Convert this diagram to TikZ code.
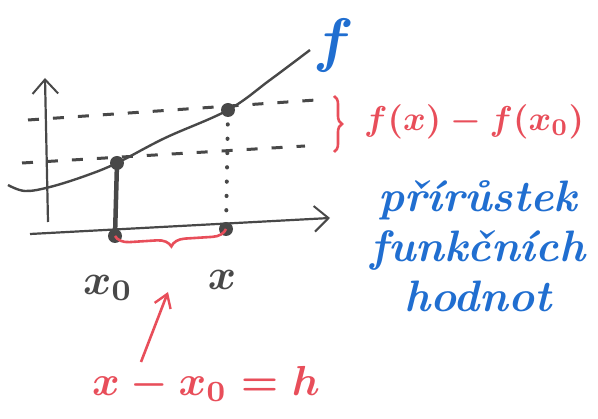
\documentclass[tikz,border=0pt]{standalone}
\usepackage{fontspec}
\usepackage{tikz}
\usetikzlibrary{arrows.meta,positioning,decorations.pathreplacing}
\definecolor{inkgray}{RGB}{72,72,72}
\definecolor{inkred}{RGB}{232,78,90}
\definecolor{inkblue}{RGB}{32,110,208}
\newcommand{\ink}[2][4.3]{\scalebox{#1}{\boldmath#2}}
\tikzset{
  axis/.style={-{Straight Barb[length=5mm,width=9mm,line width=2pt]},draw=inkgray,line width=2.2pt},
  graph/.style={draw=inkgray,line width=2.4pt},
  level/.style={draw=inkgray,line width=3pt,dash pattern=on 11pt off 14pt},
  drop/.style={draw=inkgray,line width=4pt,dash pattern=on 0.3pt off 14pt,line cap=round},
  foot/.style={draw=inkgray,line width=4.5pt},
  dot/.style={circle,fill=inkgray,inner sep=0pt,minimum size=14pt},
  gap/.style={decorate,draw=inkred,line width=2.6pt},
  pointer/.style={-{Straight Barb[length=4.5mm,width=6mm,line width=2.4pt]},draw=inkred,line width=2.6pt},
  graytxt/.style={text=inkgray,inner sep=0pt},
  redtxt/.style={text=inkred,inner sep=0pt},
  bluetxt/.style={text=inkblue,inner sep=0pt}
}
\begin{document}
\begin{tikzpicture}[x=1pt,y=-1pt]
\useasboundingbox (0,0) rectangle (598,419);
% axes
\coordinate (ybot) at (48,222);
\coordinate (ytop) at (45,78);
\coordinate (xleft) at (30,234);
\coordinate (xright) at (330,218);
\draw[axis] (ybot) -- (ytop);
\draw[axis] (xleft) -- (xright);
% points
\node[dot] (p0) at (117,163) {};
\node[dot] (p1) at (228,110) {};
\node[dot] (a0) at (115,236) {};
\node[dot] (a1) at (226,229) {};
% graph of f
\coordinate (gstart) at (8,185);
\coordinate (gend) at (310,50);
\draw[graph] plot[smooth,tension=0.6] coordinates {(gstart) (25,191) (50,187) (85,176) (p0) (165,138) (p1) (270,80) (gend)};
% levels
\coordinate (u1) at (28,120);
\coordinate (u2) at (316,100);
\coordinate (l1) at (22,163);
\coordinate (l2) at (305,146);
\draw[level] (u1) -- (u2);
\draw[level] (l1) -- (l2);
\draw[foot] (p0.center) -- (a0.center);
\draw[drop] (p1.center) -- (a1.center);
% increments
\coordinate (bt) at (334,96);
\coordinate (bb) at (334,152);
\draw[gap,decoration={brace,amplitude=8pt}] (bt) -- (bb);
\draw[gap,decoration={brace,amplitude=14pt}] (a1.center) -- (a0.center);
\node[redtxt,anchor=west] (diff) at (364,122) {\ink[3.45]{$f(x)-f(x_0)$}};
\node[graytxt] (lx0) at (108,288) {\ink{$x_0$}};
\node[graytxt] (lx) at (222,280) {\ink{$x$}};
\node[bluetxt] (flab) at (334,46) {\ink[6]{$f$}};
\coordinate (tail) at (141,362);
\coordinate (tip) at (168,292);
\draw[pointer] (tail) -- (tip);
\node[redtxt] (hdef) at (206,384) {\ink[4.2]{$x-x_0=h$}};
\node[bluetxt,align=center,font=\fontsize{44}{50}\selectfont\bfseries\itshape] (incr) at (478,246) {přírůstek\\funkčních\\hodnot};
\end{tikzpicture}
\end{document}
